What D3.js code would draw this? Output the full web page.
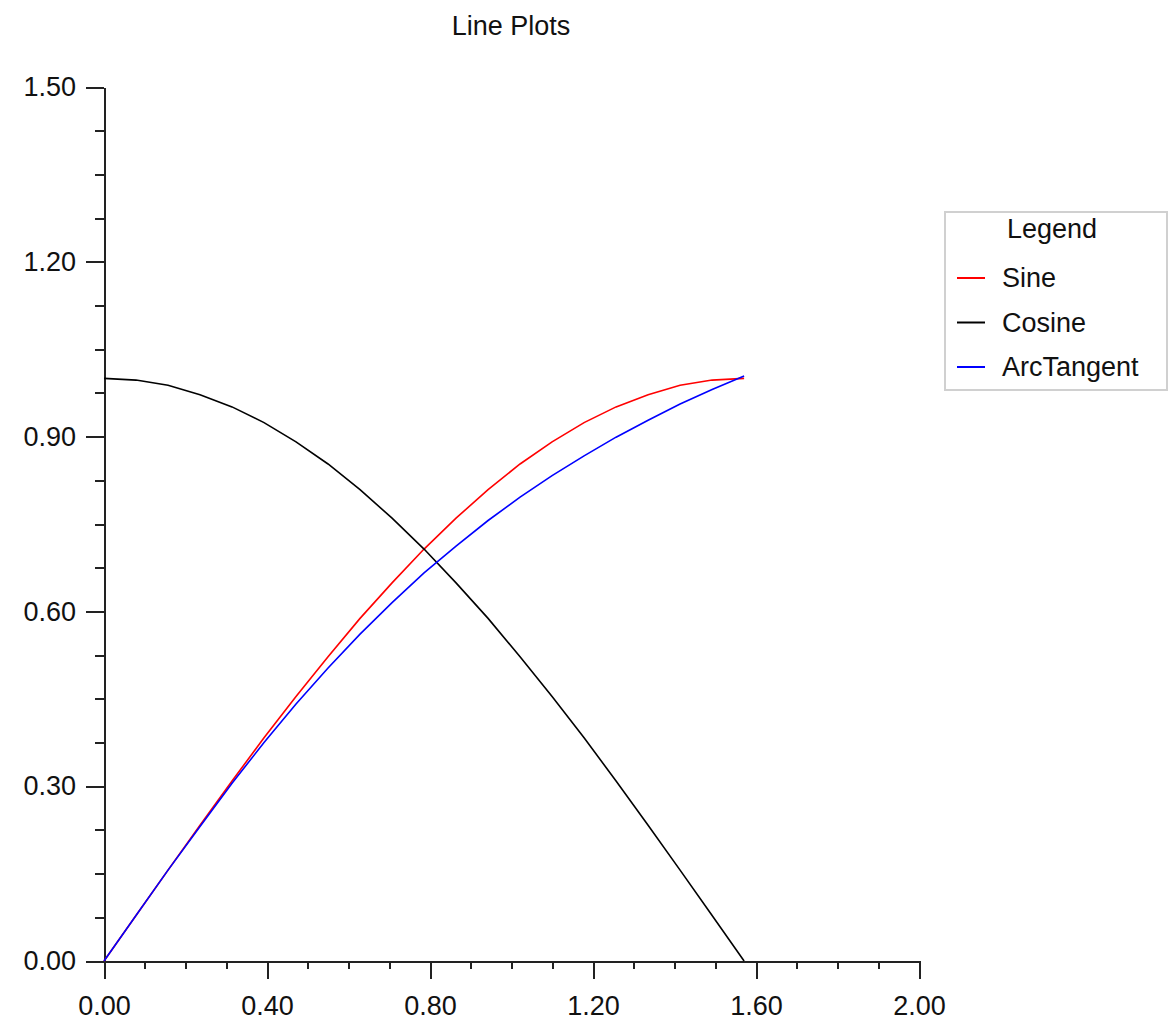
<!DOCTYPE html>
<html>
<head>
<meta charset="utf-8">
<script src="https://cdn.jsdelivr.net/npm/d3@7"></script>
<style>
  body { margin: 0; background: #fff; }
  text { font-family: "Liberation Sans", Arial, sans-serif; fill: #111; }
</style>
</head>
<body>
<svg width="1173" height="1026"></svg>
<script>
const svg = d3.select("svg");
const margin = { top: 87, right: 254, bottom: 65, left: 104 };
const width = +svg.attr("width");
const height = +svg.attr("height");

const xValues = [0, 0.0785, 0.1571, 0.2356, 0.3142, 0.3927, 0.4712, 0.5498, 0.6283, 0.7069,
  0.7854, 0.8639, 0.9425, 1.0210, 1.0996, 1.1781, 1.2566, 1.3352, 1.4137, 1.4923, 1.5708];
const sineValues = [0, 0.078, 0.156, 0.233, 0.309, 0.383, 0.454, 0.522, 0.588, 0.649,
  0.707, 0.760, 0.809, 0.853, 0.891, 0.924, 0.951, 0.972, 0.988, 0.997, 1.000];
const cosineValues = [1.000, 0.997, 0.988, 0.972, 0.951, 0.924, 0.891, 0.853, 0.809, 0.760,
  0.707, 0.649, 0.588, 0.522, 0.454, 0.383, 0.309, 0.233, 0.156, 0.078, 0.000];
const arcTanValues = [0, 0.078, 0.156, 0.231, 0.305, 0.375, 0.441, 0.503, 0.561, 0.615,
  0.666, 0.712, 0.756, 0.796, 0.833, 0.867, 0.899, 0.928, 0.956, 0.981, 1.004];

const seriesNames = ["Sine", "Cosine", "ArcTangent"];
const seriesColors = ["#ff0000", "#000000", "#0000ff"];
const seriesValues = [sineValues, cosineValues, arcTanValues];

const xTicks = [0, 0.4, 0.8, 1.2, 1.6, 2.0];
const yTicks = [0, 0.3, 0.6, 0.9, 1.2, 1.5];
const xMinorTicks = d3.range(0, 20).map(i => i / 10).filter(v => Math.round(v * 10) % 4 !== 0);
const yMinorTicks = d3.range(0, 20).map(i => i * 0.075).filter((v, i) => i % 4 !== 0);

const x = d3.scaleLinear().domain([0, 2]).range([margin.left, width - margin.right]);
const y = d3.scaleLinear().domain([0, 1.5]).range([height - margin.bottom, margin.top]);

// title
svg.append("text")
  .attr("x", 511)
  .attr("y", 35)
  .attr("text-anchor", "middle")
  .attr("font-size", "27px")
  .text("Line Plots");

// minor ticks
svg.append("g")
  .attr("transform", `translate(0,${y(0)})`)
  .attr("shape-rendering", "crispEdges")
  .call(d3.axisBottom(x).tickValues(xMinorTicks).tickSize(8).tickSizeOuter(0).tickFormat(""))
  .call(g => g.select(".domain").remove())
  .call(g => g.selectAll("line").attr("stroke", "#222").attr("stroke-width", 2));

svg.append("g")
  .attr("transform", `translate(${x(0)},0)`)
  .attr("shape-rendering", "crispEdges")
  .call(d3.axisLeft(y).tickValues(yMinorTicks).tickSize(9).tickSizeOuter(0).tickFormat(""))
  .call(g => g.select(".domain").remove())
  .call(g => g.selectAll("line").attr("stroke", "#222").attr("stroke-width", 2));

// major axes
svg.append("g")
  .attr("transform", `translate(0,${y(0)})`)
  .attr("shape-rendering", "crispEdges")
  .call(d3.axisBottom(x).tickValues(xTicks).tickSize(18).tickSizeOuter(0)
    .tickPadding(17).tickFormat(d3.format(".2f")))
  .call(g => g.select(".domain").attr("stroke", "#222").attr("stroke-width", 2))
  .call(g => g.selectAll("line").attr("stroke", "#222").attr("stroke-width", 2))
  .call(g => g.selectAll("text").attr("font-size", "27px").attr("font-family", null).attr("fill", "#111"));

svg.append("g")
  .attr("transform", `translate(${x(0)},0)`)
  .attr("shape-rendering", "crispEdges")
  .call(d3.axisLeft(y).tickValues(yTicks).tickSize(18).tickSizeOuter(0)
    .tickPadding(10).tickFormat(d3.format(".2f")))
  .call(g => g.select(".domain").attr("stroke", "#222").attr("stroke-width", 2))
  .call(g => g.selectAll("line").attr("stroke", "#222").attr("stroke-width", 2))
  .call(g => g.selectAll("text").attr("font-size", "27px").attr("font-family", null).attr("fill", "#111"));

// lines
const line = d3.line()
  .x(d => x(d[0]))
  .y(d => y(d[1]));

seriesValues.forEach((vals, i) => {
  svg.append("path")
    .datum(xValues.map((xv, j) => [xv, vals[j]]))
    .attr("fill", "none")
    .attr("stroke", seriesColors[i])
    .attr("stroke-width", 1.6)
    .attr("d", line);
});

// legend
const legend = svg.append("g").attr("transform", "translate(945,212)");
legend.append("rect")
  .attr("width", 222)
  .attr("height", 178)
  .attr("fill", "#fff")
  .attr("stroke", "#d0d0d0")
  .attr("stroke-width", 2);

legend.append("text")
  .attr("x", 107)
  .attr("y", 26)
  .attr("text-anchor", "middle")
  .attr("font-size", "27px")
  .text("Legend");

seriesNames.forEach((name, i) => {
  const ly = 66 + i * 44.5;
  legend.append("line")
    .attr("x1", 12)
    .attr("x2", 40)
    .attr("y1", ly)
    .attr("y2", ly)
    .attr("stroke", seriesColors[i])
    .attr("stroke-width", 2);
  legend.append("text")
    .attr("x", 57)
    .attr("y", ly)
    .attr("dy", "0.35em")
    .attr("font-size", "27px")
    .text(name);
});
</script>
</body>
</html>
